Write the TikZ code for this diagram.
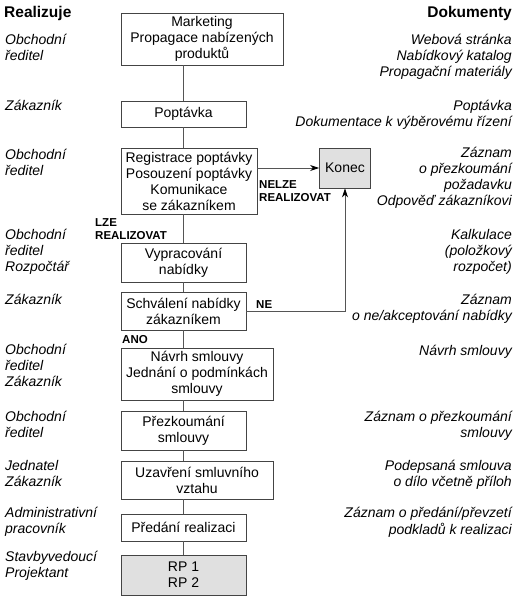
\documentclass[tikz,border=0pt]{standalone}
\usepackage{fontspec}
\setmainfont{Liberation Sans}
\usetikzlibrary{arrows.meta}
\definecolor{boxline}{HTML}{444444}
\definecolor{conline}{HTML}{555555}
\definecolor{boxfill}{HTML}{E0E0E0}
\begin{document}
\begin{tikzpicture}[x=1pt,y=-1pt,
  box/.style={draw=boxline, line width=0.9pt, inner sep=0pt, align=center, font=\fontsize{14}{16}\selectfont},
  gbox/.style={box, fill=boxfill},
  side/.style={inner sep=0pt, font=\fontsize{14}{16}\selectfont\itshape},
  lside/.style={side, anchor=north west, align=left},
  rside/.style={side, anchor=north east, align=right},
  head/.style={inner sep=0pt, font=\fontsize{15.5}{18}\selectfont\bfseries},
  lab/.style={inner sep=0pt, anchor=north west, align=left, font=\fontsize{11.5}{13}\selectfont\bfseries},
  con/.style={draw=conline, line width=0.8pt},
  arr/.style={con, -{Stealth[length=9pt,width=6pt,color=black]}}
]
\useasboundingbox (0,0) rectangle (521,600);
\fill[white] (0,0) rectangle (521,600);

% headers
\node[head, anchor=base west] (hl) at (4,17.5) {Realizuje};
\node[head, anchor=base east] (hr) at (512,17.5) {Dokumenty};

% process boxes
\node[box, minimum width=162pt, minimum height=52pt] (mkt) at (202,39) {Marketing\\Propagace nabízených\\produktů};
\node[box, minimum width=125pt, minimum height=26pt] (popt) at (183.5,114) {Poptávka};
\node[box, minimum width=136pt, minimum height=66pt] (reg) at (189,181) {Registrace poptávky\\Posouzení poptávky\\Komunikace\\se zákazníkem};
\node[gbox, minimum width=51pt, minimum height=40pt] (konec) at (345,168) {Konec};
\node[box, minimum width=125pt, minimum height=39pt] (vypr) at (183.5,262.5) {Vypracování\\nabídky};
\node[box, minimum width=125pt, minimum height=38pt] (schv) at (183.5,311) {Schválení nabídky\\zákazníkem};
\node[box, minimum width=152pt, minimum height=52pt] (navrh) at (197,374) {Návrh smlouvy\\Jednání o podmínkách\\smlouvy};
\node[box, minimum width=125pt, minimum height=39pt] (prez) at (183.5,430.5) {Přezkoumání\\smlouvy};
\node[box, minimum width=152pt, minimum height=38pt] (uzav) at (197,480) {Uzavření smluvního\\vztahu};
\node[box, minimum width=125pt, minimum height=27pt] (pred) at (183.5,527.5) {Předání realizaci};
\node[gbox, minimum width=125pt, minimum height=40pt] (rp) at (183.5,575) {RP 1\\RP 2};

% connectors
\coordinate (col) at (183,0);
\foreach \a/\b in {mkt/popt, popt/reg, reg/vypr, vypr/schv, schv/navrh, navrh/prez, prez/uzav, uzav/pred, pred/rp}
  \draw[con] (\a.south -| col) -- (\b.north -| col);
\draw[arr] (reg.east |- konec.west) -- (konec.west);
\draw[arr] (schv.east) -| (konec.south);

% branch labels
\node[lab] (lze) at (95,217) {\strut LZE\\REALIZOVAT};
\node[lab] (nelze) at (259,179) {\strut NELZE\\REALIZOVAT};
\node[lab] (ne) at (256,299) {\strut NE};
\node[lab] (ano) at (122,334) {\strut ANO};

% left column
\node[lside] (l1) at (5,33.3) {\strut Obchodní\\ředitel};
\node[lside] (l2) at (5,99.3) {\strut Zákazník};
\node[lside] (l3) at (5,148.3) {\strut Obchodní\\ředitel};
\node[lside] (l4) at (5,228.3) {\strut Obchodní\\ředitel\\Rozpočtář};
\node[lside] (l5) at (5,293.3) {\strut Zákazník};
\node[lside] (l6) at (5,343.3) {\strut Obchodní\\ředitel\\Zákazník};
\node[lside] (l7) at (5,410.3) {\strut Obchodní\\ředitel};
\node[lside] (l8) at (5,459.3) {\strut Jednatel\\Zákazník};
\node[lside] (l9) at (5,506.3) {\strut Administrativní\\pracovník};
\node[lside] (l10) at (5,550.3) {\strut Stavbyvedoucí\\Projektant};

% right column
\node[rside] (r1) at (512,33.3) {\strut Webová stránka\\Nabídkový katalog\\Propagační materiály};
\node[rside] (r2) at (512,99.3) {\strut Poptávka\\Dokumentace k výběrovému řízení};
\node[rside] (r3) at (512,146.3) {\strut Záznam\\o přezkoumání\\požadavku\\Odpověď zákazníkovi};
\node[rside] (r4) at (512,228.3) {\strut Kalkulace\\(položkový\\rozpočet)};
\node[rside] (r5) at (512,293.3) {\strut Záznam\\o ne/akceptování nabídky};
\node[rside] (r6) at (512,344.3) {\strut Návrh smlouvy};
\node[rside] (r7) at (512,410.3) {\strut Záznam o přezkoumání\\smlouvy};
\node[rside] (r8) at (512,459.3) {\strut Podepsaná smlouva\\o dílo včetně příloh};
\node[rside] (r9) at (512,506.3) {\strut Záznam o předání/převzetí\\podkladů k realizaci};
\end{tikzpicture}
\end{document}
